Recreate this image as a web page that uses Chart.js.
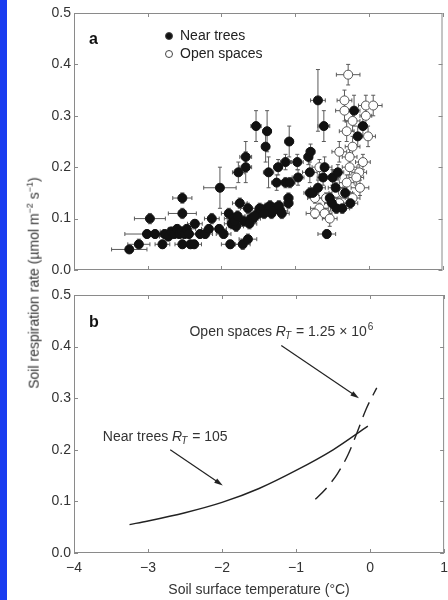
<!DOCTYPE html>
<html>
<head>
<meta charset="utf-8">
<script src="https://cdn.jsdelivr.net/npm/chart.js@4"></script>
<style>
  body { margin: 0; background: #fff; width: 448px; height: 600px; overflow: hidden; position: relative; font-family: "Liberation Sans", Arial, sans-serif; }
  #strip { position: absolute; left: 0; top: 0; width: 7px; height: 600px; background: #1a3cf0; z-index: 2; }
  #wrapA { position: absolute; left: 0; top: 0; width: 448px; height: 283px; }
  #wrapB { position: absolute; left: 0; top: 283px; width: 455px; height: 317px; }
  #ytitle { position: absolute; left: 33px; top: 283px; transform: translate(-50%, -50%) rotate(-90deg); white-space: nowrap; font-size: 14px; color: #333; }
  #ytitle sup { font-size: 9px; }
</style>
</head>
<body>
<div id="strip"></div>
<div id="wrapA"><canvas id="chartA"></canvas></div>
<div id="wrapB"><canvas id="chartB"></canvas></div>
<div id="ytitle">Soil respiration rate (µmol m<sup>−2</sup> s<sup>−1</sup>)</div>
<script>
// ── panel a: near trees (black) ──
const nearX = [-3.25,-3.12,-2.97,-3.01,-2.90,-2.80,-2.77,-2.72,-2.68,-2.64,-2.60,-2.57,-2.54,-2.50,-2.47,-2.44,
  -2.53,-2.53,-2.53,-2.42,-2.37,-2.36,-2.29,-2.22,-2.17,-2.13,-2.02,-2.03,-1.97,-1.90,-1.88,-1.86,-1.84,-1.80,
  -1.77,-1.75,-1.71,-1.70,-1.67,-1.67,-1.64,-1.64,-1.60,-1.57,-1.53,-1.50,-1.45,-1.40,-1.38,-1.36,-1.39,-1.32,
  -1.28,-1.25,-1.23,-1.25,-1.20,-1.13,-1.08,-1.13,-1.07,-1.09,-1.09,-0.97,-0.96,-0.82,-0.79,-0.80,-0.80,-0.76,
  -0.69,-0.61,-0.60,-0.69,-0.62,-0.57,-0.53,-0.49,-0.44,-0.42,-0.25,-0.20,-0.08,-0.15,
  -1.55,-1.48,-1.42,-1.34,-1.30,-1.22,-1.18,-1.62,-1.82,-1.78,-0.32,-0.45,-0.36,-0.50];
const nearY = [0.040,0.050,0.100,0.070,0.070,0.050,0.070,0.065,0.075,0.070,0.080,0.070,0.075,0.070,0.080,0.070,
  0.140,0.110,0.050,0.050,0.050,0.090,0.070,0.070,0.080,0.100,0.160,0.080,0.070,0.110,0.050,0.090,0.100,0.085,
  0.190,0.130,0.050,0.095,0.200,0.220,0.060,0.120,0.100,0.100,0.280,0.110,0.115,0.240,0.270,0.190,0.120,0.110,
  0.120,0.170,0.200,0.120,0.115,0.210,0.250,0.170,0.170,0.140,0.130,0.210,0.180,0.220,0.230,0.190,0.150,0.150,
  0.330,0.280,0.200,0.160,0.180,0.070,0.140,0.180,0.120,0.190,0.130,0.310,0.280,0.260,
  0.105,0.120,0.110,0.125,0.115,0.125,0.110,0.090,0.095,0.105,0.150,0.160,0.120,0.130];
const nearXErr = [0.24,0.15,0.21,0.30,0.12,0.10,0.15,0.12,0.15,0.18,0.12,0.15,0.12,0.10,0.12,0.10,
  0.13,0.19,0.10,0.10,0.10,0.10,0.10,0.10,0.10,0.10,0.22,0.10,0.10,0.10,0.12,0.10,0.12,0.10,
  0.08,0.10,0.10,0.10,0.08,0.08,0.12,0.10,0.10,0.10,0.07,0.10,0.10,0.05,0.06,0.07,0.10,0.10,
  0.10,0.07,0.06,0.10,0.10,0.07,0.06,0.07,0.07,0.06,0.06,0.08,0.08,0.06,0.06,0.10,0.08,0.08,
  0.10,0.08,0.10,0.10,0.08,0.12,0.10,0.08,0.08,0.08,0.10,0.08,0.06,0.06,
  0.10,0.10,0.10,0.10,0.10,0.10,0.10,0.10,0.10,0.10,0.10,0.10,0.10,0.10];
const nearYErr = [0.005,0.010,0.010,0.008,0.008,0.008,0.008,0.008,0.008,0.008,0.008,0.008,0.008,0.008,0.008,0.008,
  0.010,0.010,0.008,0.008,0.008,0.008,0.008,0.008,0.008,0.010,0.040,0.008,0.008,0.010,0.008,0.010,0.010,0.010,
  0.020,0.010,0.010,0.010,0.030,0.030,0.010,0.010,0.010,0.010,0.030,0.010,0.010,0.030,0.040,0.030,0.010,0.010,
  0.010,0.015,0.015,0.010,0.010,0.015,0.030,0.010,0.010,0.010,0.010,0.015,0.015,0.015,0.015,0.020,0.010,0.010,
  0.060,0.030,0.020,0.015,0.015,0.008,0.010,0.015,0.010,0.015,0.010,0.030,0.020,0.020,
  0.010,0.010,0.010,0.010,0.010,0.010,0.010,0.010,0.010,0.010,0.010,0.010,0.010,0.010];

// ── panel a: open spaces (white) ──
const openX = [-0.28,-0.33,-0.33,-0.22,-0.04,0.06,-0.04,-0.30,-0.01,-0.22,-0.40,-0.08,-0.67,-0.26,-0.13,
  -0.49,-0.30,-0.12,-0.73,-0.58,-0.44,-0.67,-0.73,-0.60,-0.53,-0.40,-0.22,-0.17,-0.26,-0.35];
const openY = [0.380,0.330,0.310,0.290,0.320,0.320,0.300,0.270,0.260,0.240,0.230,0.210,0.200,0.200,0.190,
  0.180,0.170,0.160,0.140,0.140,0.150,0.120,0.110,0.110,0.100,0.130,0.140,0.180,0.220,0.150];
const openXErr = [0.16,0.10,0.12,0.10,0.10,0.12,0.08,0.10,0.10,0.10,0.10,0.10,0.10,0.10,0.10,
  0.10,0.10,0.12,0.10,0.10,0.10,0.12,0.12,0.10,0.10,0.10,0.10,0.10,0.10,0.10];
const openYErr = [0.020,0.020,0.020,0.020,0.020,0.020,0.020,0.020,0.020,0.020,0.020,0.015,0.015,0.015,0.015,
  0.015,0.015,0.015,0.010,0.010,0.010,0.010,0.010,0.010,0.015,0.010,0.010,0.015,0.015,0.010];

// ── panel b: fitted curves ──
const nearCurveX = [-3.25,-3.0,-2.5,-2.0,-1.5,-1.0,-0.5,-0.03];
const nearCurveY = [0.055,0.062,0.078,0.098,0.125,0.160,0.200,0.246];
const openCurveX = [-0.74,-0.60,-0.44,-0.30,-0.19,-0.05,0.09];
const openCurveY = [0.104,0.124,0.154,0.190,0.228,0.280,0.320];

const xTicks = [-4, -3, -2, -1, 0, 1];
const yTicks = [0, 0.1, 0.2, 0.3, 0.4, 0.5];

const TXT = '#333';
const FONT = '"Liberation Sans", Arial, sans-serif';
const pts = (xs, ys) => xs.map((x, i) => ({ x, y: ys[i] }));

// frame + inward ticks on all four sides
const framePlugin = {
  id: 'frame',
  afterDraw(chart) {
    const { ctx, chartArea: a, scales: { x, y } } = chart;
    ctx.save();
    ctx.strokeStyle = '#8a8a8a';
    ctx.lineWidth = 1;
    ctx.strokeRect(a.left + 0.5, a.top + 0.5, a.right - a.left - 1, a.bottom - a.top - 1);
    ctx.beginPath();
    xTicks.forEach(v => {
      const px = Math.round(x.getPixelForValue(v)) + 0.5;
      ctx.moveTo(px, a.bottom); ctx.lineTo(px, a.bottom - 4);
      ctx.moveTo(px, a.top); ctx.lineTo(px, a.top + 4);
    });
    yTicks.forEach(v => {
      const py = Math.round(y.getPixelForValue(v)) + 0.5;
      ctx.moveTo(a.left, py); ctx.lineTo(a.left + 4, py);
      ctx.moveTo(a.right, py); ctx.lineTo(a.right - 4, py);
    });
    ctx.stroke();
    ctx.restore();
  }
};

// error bars behind the points
const errorBarPlugin = {
  id: 'errbars',
  beforeDatasetsDraw(chart) {
    const { ctx, scales: { x, y } } = chart;
    ctx.save();
    ctx.strokeStyle = '#5a5a5a';
    ctx.lineWidth = 1;
    chart.data.datasets.forEach(ds => {
      if (!ds.errX) return;
      ds.data.forEach((p, i) => {
        const px = x.getPixelForValue(p.x), py = y.getPixelForValue(p.y);
        const x0 = x.getPixelForValue(p.x - ds.errX[i]), x1 = x.getPixelForValue(p.x + ds.errX[i]);
        const y0 = y.getPixelForValue(p.y - ds.errY[i]), y1 = y.getPixelForValue(p.y + ds.errY[i]);
        ctx.beginPath();
        ctx.moveTo(x0, py); ctx.lineTo(x1, py);
        ctx.moveTo(x0, py - 2); ctx.lineTo(x0, py + 2);
        ctx.moveTo(x1, py - 2); ctx.lineTo(x1, py + 2);
        ctx.moveTo(px, y0); ctx.lineTo(px, y1);
        ctx.moveTo(px - 2, y0); ctx.lineTo(px + 2, y0);
        ctx.moveTo(px - 2, y1); ctx.lineTo(px + 2, y1);
        ctx.stroke();
      });
    });
    ctx.restore();
  }
};

// panel letter, legend, annotations
const notesPlugin = {
  id: 'notes',
  afterDraw(chart, args, opts) {
    const { ctx, scales: { x, y } } = chart;
    ctx.save();
    ctx.fillStyle = '#111';
    ctx.font = 'bold 16px ' + FONT;
    ctx.textBaseline = 'middle';
    ctx.fillText(opts.letter, 89, 40);
    ctx.font = '14px ' + FONT;
    if (opts.legend) {
      chart.data.datasets.forEach((ds, i) => {
        const cy = 36 + i * 18;
        ctx.beginPath();
        ctx.arc(169, cy, 3.5, 0, Math.PI * 2);
        ctx.fillStyle = ds.pointBackgroundColor;
        ctx.fill();
        ctx.strokeStyle = '#444';
        ctx.stroke();
        ctx.fillStyle = '#222';
        ctx.fillText(ds.label, 180, cy);
      });
    }
    (opts.labels || []).forEach(l => {
      let px = x.getPixelForValue(l.x);
      const py = y.getPixelForValue(l.y);
      ctx.fillStyle = TXT;
      ctx.font = '14px ' + FONT;
      ctx.fillText(l.pre, px, py); px += ctx.measureText(l.pre).width;
      ctx.font = 'italic 14px ' + FONT;
      ctx.fillText('R', px, py); px += ctx.measureText('R').width;
      ctx.font = 'italic 10px ' + FONT;
      ctx.fillText('T', px - 1, py + 4); px += ctx.measureText('T').width;
      ctx.font = '14px ' + FONT;
      ctx.fillText(l.post, px, py); px += ctx.measureText(l.post).width;
      if (l.sup) { ctx.font = '10px ' + FONT; ctx.fillText(l.sup, px + 1, py - 5); }
      // arrow
      const ax0 = x.getPixelForValue(l.from[0]), ay0 = y.getPixelForValue(l.from[1]);
      const ax1 = x.getPixelForValue(l.to[0]), ay1 = y.getPixelForValue(l.to[1]);
      const ang = Math.atan2(ay1 - ay0, ax1 - ax0);
      ctx.strokeStyle = '#222'; ctx.fillStyle = '#222'; ctx.lineWidth = 1.2;
      ctx.beginPath(); ctx.moveTo(ax0, ay0); ctx.lineTo(ax1 - 6 * Math.cos(ang), ay1 - 6 * Math.sin(ang)); ctx.stroke();
      ctx.beginPath();
      ctx.moveTo(ax1, ay1);
      ctx.lineTo(ax1 - 9 * Math.cos(ang - 0.3), ay1 - 9 * Math.sin(ang - 0.3));
      ctx.lineTo(ax1 - 9 * Math.cos(ang + 0.3), ay1 - 9 * Math.sin(ang + 0.3));
      ctx.closePath(); ctx.fill();
    });
    ctx.restore();
  }
};

function yScale() {
  return {
    min: 0, max: 0.5,
    afterFit: s => { s.width = 74; },
    afterBuildTicks: s => { s.ticks = yTicks.map(v => ({ value: v })); },
    grid: { display: false, drawTicks: false, tickLength: 0 }, border: { display: false },
    ticks: { color: TXT, font: { family: FONT, size: 14 }, padding: 3, callback: v => v.toFixed(1) }
  };
}

new Chart(document.getElementById('chartA'), {
  type: 'scatter',
  data: {
    datasets: [
      { label: 'Near trees', data: pts(nearX, nearY), errX: nearXErr, errY: nearYErr,
        pointRadius: 4.5, pointBackgroundColor: '#111', pointBorderColor: '#111', pointBorderWidth: 1 },
      { label: 'Open spaces', data: pts(openX, openY), errX: openXErr, errY: openYErr,
        pointRadius: 4.5, pointBackgroundColor: '#fff', pointBorderColor: '#555', pointBorderWidth: 1 }
    ]
  },
  options: {
    responsive: true, maintainAspectRatio: false, animation: false,
    layout: { padding: { top: 13, right: 4, bottom: 13, left: 0 } },
    plugins: { legend: { display: false }, tooltip: { enabled: false },
      notes: { letter: 'a', legend: true } },
    scales: {
      x: { min: -4, max: 1, afterFit: s => { s.height = 0; },
        ticks: { display: false, padding: 0 }, grid: { display: false, drawTicks: false, tickLength: 0 }, border: { display: false } },
      y: yScale()
    }
  },
  plugins: [errorBarPlugin, framePlugin, notesPlugin]
});

new Chart(document.getElementById('chartB'), {
  type: 'scatter',
  data: {
    datasets: [
      { label: 'Near trees', data: pts(nearCurveX, nearCurveY), showLine: true, pointRadius: 0,
        borderColor: '#222', borderWidth: 1.4, cubicInterpolationMode: 'monotone' },
      { label: 'Open spaces', data: pts(openCurveX, openCurveY), showLine: true, pointRadius: 0,
        borderColor: '#222', borderWidth: 1.4, borderDash: [16, 8], cubicInterpolationMode: 'monotone' }
    ]
  },
  options: {
    responsive: true, maintainAspectRatio: false, animation: false,
    layout: { padding: { top: 12, right: 1, bottom: 1, left: 0 } },
    plugins: { legend: { display: false }, tooltip: { enabled: false },
      notes: { letter: 'b', labels: [
        { x: -3.61, y: 0.224, pre: 'Near trees ', post: ' = 105', from: [-2.70, 0.200], to: [-1.99, 0.131] },
        { x: -2.44, y: 0.428, pre: 'Open spaces ', post: ' = 1.25 × 10', sup: '6', from: [-1.20, 0.402], to: [-0.15, 0.300] }
      ] } },
    scales: {
      x: {
        min: -4, max: 1,
        afterFit: s => { s.height = 46; },
        afterBuildTicks: s => { s.ticks = xTicks.map(v => ({ value: v })); },
        grid: { display: false, drawTicks: false, tickLength: 0 }, border: { display: false },
        ticks: { color: TXT, font: { family: FONT, size: 14 }, padding: 7, maxRotation: 0,
          callback: v => v < 0 ? '−' + Math.abs(v) : String(v) },
        title: { display: true, text: 'Soil surface temperature (°C)', color: TXT,
          font: { family: FONT, size: 14 }, padding: { top: 2, bottom: 0 } }
      },
      y: yScale()
    }
  },
  plugins: [framePlugin, notesPlugin]
});
</script>
</body>
</html>
